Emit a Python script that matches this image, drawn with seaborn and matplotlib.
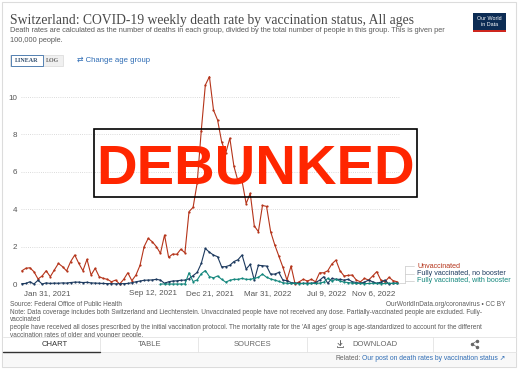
import matplotlib
matplotlib.use("Agg")
import matplotlib.pyplot as plt
import seaborn as sns
import pandas as pd
from matplotlib.patches import Rectangle
from matplotlib.lines import Line2D

# weekly death rates per 100,000
unvax = [0.70, 0.84, 0.87, 0.66, 0.27, 0.43, 0.71, 0.39, 0.75, 1.10,
         0.93, 0.70, 1.20, 1.55, 1.10, 0.71, 1.32, 0.48, 0.84, 0.39,
         0.30, 0.25, 0.12, 0.21, 0.00, 0.25, 0.60, 0.18, 0.48, 1.00,
         2.00, 2.44, 2.26, 2.00, 1.64, 2.62, 1.43, 1.60, 1.59, 1.86,
         1.67, 3.87, 4.10, 5.40, 8.20, 10.64, 11.09, 9.30, 8.77, 7.60,
         7.00, 7.80, 6.30, 5.50, 5.50, 4.30, 4.85, 3.10, 2.80, 4.20,
         4.15, 2.80, 2.10, 1.50, 0.90, 0.21, 0.96, 0.00, 0.12, 0.25,
         0.16, 0.25, 0.12, 0.60, 0.60, 0.71, 1.07, 1.28, 0.71, 0.43,
         0.46, 0.48, 0.21, 0.12, 0.30, 0.21, 0.43, 0.66, 0.21, 0.12,
         0.36, 0.18, 0.12]
no_booster = [0.02, 0.03, 0.12, 0.00, 0.20, 0.00, 0.06, 0.03, 0.05, 0.04,
              0.06, 0.05, 0.08, 0.10, 0.10, 0.08, 0.09, 0.06, 0.05, 0.04,
              0.03, 0.02, 0.02, 0.01, 0.02, 0.02, 0.03, 0.07, 0.12, 0.16,
              0.20, 0.21, 0.22, 0.25, 0.21, 0.04, 0.12, 0.16, 0.17, 0.20,
              0.21, 0.28, 0.45, 0.62, 1.10, 1.90, 1.70, 1.55, 1.46, 0.92,
              0.93, 1.00, 1.20, 1.30, 1.55, 0.80, 1.05, 0.20, 1.00, 0.98,
              0.96, 0.53, 0.53, 0.62, 0.21, 0.18, 0.08, 0.05, 0.04, 0.03,
              0.05, 0.04, 0.08, 0.20, 0.39, 0.04, 0.30, 0.25, 0.25, 0.21,
              0.25, 0.12, 0.08, 0.04, 0.10, 0.21, 0.12, 0.04, 0.10, 0.21,
              0.00, 0.05, 0.05]
booster_start = 34
with_booster = [0.00, 0.00, 0.00, 0.00, 0.00, 0.00, 0.00, 0.60, 0.13, 0.22,
                0.55, 0.72, 0.40, 0.33, 0.43, 0.25, 0.10, 0.20, 0.25, 0.25,
                0.30, 0.25, 0.25, 0.30, 0.36, 0.53, 0.36, 0.27, 0.21, 0.14,
                0.07, 0.04, 0.03, 0.03, 0.02, 0.03, 0.02, 0.03, 0.03, 0.05,
                0.10, 0.30, 0.16, 0.25, 0.16, 0.10, 0.08, 0.05, 0.03, 0.03,
                0.02, 0.03, 0.04, 0.03, 0.02, 0.03, 0.04, 0.03, 0.03]

statuses = ["Unvaccinated", "Fully vaccinated, no booster", "Fully vaccinated, with booster"]
colors = ["#b5341a", "#1d3a5f", "#14877d"]
tick_pos = [6.2, 32.2, 46.2, 60.4, 74.8, 86.3]
tick_labels = ["Jan 31, 2021", "Sep 12, 2021", "Dec 21, 2021", "Mar 31, 2022", "Jul 9, 2022", "Nov 6, 2022"]

df = pd.concat([
    pd.DataFrame({"week": range(len(unvax)), "rate": unvax, "status": statuses[0]}),
    pd.DataFrame({"week": range(len(no_booster)), "rate": no_booster, "status": statuses[1]}),
    pd.DataFrame({"week": range(booster_start, booster_start + len(with_booster)),
                  "rate": with_booster, "status": statuses[2]}),
])

W, H = 520, 370
def fx(x):
    return x / W
def fy(y):
    return 1 - y / H

sns.set_theme(style="white")
plt.rcParams["font.family"] = ["Liberation Sans", "DejaVu Sans"]

fig = plt.figure(figsize=(5.2, 3.7), dpi=100)
fig.patch.set_facecolor("white")

# card border
fig.add_artist(Rectangle((fx(2), fy(367)), (516 - 2) / W, (367 - 2) / H, transform=fig.transFigure,
                         fill=False, edgecolor="#dcdcdc", linewidth=0.8))

# plot
ax = fig.add_axes([fx(21), fy(285), (400 - 21) / W, (285 - 74) / H])
sns.lineplot(data=df, x="week", y="rate", hue="status", hue_order=statuses, palette=colors,
             marker="o", markersize=1.6, markeredgewidth=0, linewidth=0.8,
             legend=False, errorbar=None, ax=ax)
ax.set_xlim(-0.17, 92.7)
ax.set_ylim(-0.053, 11.23)
ax.set_yticks([0, 2, 4, 6, 8, 10])
ax.set_xticks(tick_pos, tick_labels)
ax.set_xlabel("")
ax.set_ylabel("")
ax.yaxis.grid(True, linestyle=(0, (1, 1.6)), color="#cfcfcf", linewidth=0.6)
ax.xaxis.grid(False)
for s in ax.spines.values():
    s.set_visible(False)
ax.tick_params(axis="both", length=0, labelsize=5.8, colors="#555555")
ax.tick_params(axis="x", pad=3.5)
ax.tick_params(axis="y", pad=2.5)
ax.set_facecolor("none")

# legend labels at the line ends
leg_y = [266, 273.5, 281]
for lab, col, yy in zip(statuses, colors, leg_y):
    fig.text(fx(417), fy(yy), lab, color=col, fontsize=5.1, va="center", ha="left")
for yy in leg_y:
    fig.add_artist(Line2D([fx(405), fx(414)], [fy(yy), fy(yy)], transform=fig.transFigure,
                          color="#c8c8c8", linewidth=0.5))
fig.add_artist(Line2D([fx(405), fx(405)], [fy(266), fy(283)], transform=fig.transFigure,
                      color="#c8c8c8", linewidth=0.5))
fig.add_artist(Line2D([fx(399), fx(405)], [fy(283), fy(283)], transform=fig.transFigure,
                      color="#c8c8c8", linewidth=0.5))

# header
fig.text(fx(10), fy(24), "Switzerland: COVID-19 weekly death rate by vaccination status, All ages",
         family=["Liberation Serif", "DejaVu Serif"], fontsize=9.8, color="#4a4a4a", va="baseline")
fig.text(fx(10), fy(30.5), "Death rates are calculated as the number of deaths in each group, divided by the total "
         "number of people in this group. This is given per", fontsize=5.3, color="#5b5b5b", va="center")
fig.text(fx(10), fy(41), "100,000 people.", fontsize=5.3, color="#5b5b5b", va="center")

# LINEAR / LOG toggle
fig.add_artist(Rectangle((fx(10), fy(66)), 53 / W, 11 / H, transform=fig.transFigure,
                         facecolor="#f0f0f0", edgecolor="#d8d8d8", linewidth=0.5))
fig.add_artist(Rectangle((fx(10.5), fy(65.5)), 32 / W, 10 / H, transform=fig.transFigure,
                         facecolor="white", edgecolor="#3a6ea8", linewidth=0.6))
fig.text(fx(26.5), fy(60.5), "LINEAR", fontsize=4.3, color="#2d4a6b", ha="center", va="center",
         family=["Liberation Serif", "DejaVu Serif"], fontweight="bold")
fig.text(fx(52.5), fy(60.5), "LOG", fontsize=4.3, color="#666666", ha="center", va="center",
         family=["Liberation Serif", "DejaVu Serif"], fontweight="bold")
fig.text(fx(77), fy(60.5), "\u21c4 Change age group", fontsize=5.6, color="#2f6db5", va="center")

# OWID logo
fig.add_artist(Rectangle((fx(473), fy(32)), 33 / W, 19 / H, transform=fig.transFigure,
                         facecolor="#0c2c54", edgecolor="none"))
fig.add_artist(Rectangle((fx(473), fy(32)), 33 / W, 2 / H, transform=fig.transFigure,
                         facecolor="#ce261e", edgecolor="none"))
fig.text(fx(489.5), fy(21.5), "Our World\nin Data", fontsize=3.9, color="white", ha="center",
         va="center", linespacing=1.0)

# DEBUNKED stamp
fig.add_artist(Rectangle((fx(94), fy(197)), (417 - 94) / W, (197 - 129) / H, transform=fig.transFigure,
                         fill=False, edgecolor="black", linewidth=1.2, zorder=10))
fig.text(fx(255.5), fy(183.5), "DEBUNKED", ha="center", va="baseline", fontsize=40.5,
         fontweight="bold", color="#ff2600", zorder=11)

# footer
fs = 4.7
fig.text(fx(10), fy(305), "Source: Federal Office of Public Health", fontsize=fs, color="#5b5b5b", va="center")
fig.text(fx(506), fy(305), "OurWorldInData.org/coronavirus \u2022 CC BY", fontsize=fs, color="#5b5b5b",
         va="center", ha="right")
notes = [
    "Note: Data coverage includes both Switzerland and Liechtenstein. Unvaccinated people have not received any "
    "dose. Partially-vaccinated people are excluded. Fully-",
    "vaccinated",
    "people have received all doses prescribed by the initial vaccination protocol. The mortality rate for the "
    "'All ages' group is age-standardized to account for the different",
    "vaccination rates of older and younger people.",
]
for i, line in enumerate(notes):
    fig.text(fx(10), fy(312 + 7.7 * i), line, fontsize=fs, color="#5b5b5b", va="center")

# tab bar
fig.add_artist(Rectangle((fx(2.5), fy(352)), 513 / W, 15.5 / H, transform=fig.transFigure,
                         facecolor="white", edgecolor="none", zorder=20))
fig.add_artist(Line2D([fx(2.5), fx(515.5)], [fy(336.5), fy(336.5)], transform=fig.transFigure,
                      color="#e3e3e3", linewidth=0.6, zorder=21))
for xs in [100, 198, 307, 433]:
    fig.add_artist(Line2D([fx(xs), fx(xs)], [fy(336.5), fy(352)], transform=fig.transFigure,
                          color="#e3e3e3", linewidth=0.6, zorder=21))
fig.add_artist(Line2D([fx(2.5), fx(100)], [fy(351.5), fy(351.5)], transform=fig.transFigure,
                      color="#333333", linewidth=1.0, zorder=22))
tabs = [("CHART", 55, "#333333"), ("TABLE", 150, "#666666"), ("SOURCES", 253, "#666666"),
        ("DOWNLOAD", 375, "#666666")]
for lab, xc, col in tabs:
    fig.text(fx(xc), fy(344), lab, fontsize=5.5, color=col, ha="center", va="center", zorder=23)
# download icon (arrow over a tray)
dx = 340
fig.add_artist(Line2D([fx(dx), fx(dx)], [fy(340), fy(345)], transform=fig.transFigure,
                      color="#666666", linewidth=0.7, zorder=23))
fig.add_artist(Line2D([fx(dx - 2), fx(dx), fx(dx + 2)], [fy(343.3), fy(345.3), fy(343.3)],
                      transform=fig.transFigure, color="#666666", linewidth=0.6, zorder=23))
fig.add_artist(Line2D([fx(dx - 3), fx(dx - 3), fx(dx + 3), fx(dx + 3)],
                      [fy(345.5), fy(347), fy(347), fy(345.5)],
                      transform=fig.transFigure, color="#666666", linewidth=0.6, zorder=23))
# share icon
sx = [fx(472), fx(476.5), fx(476.5)]
sy = [fy(344), fy(341.3), fy(346.7)]
fig.add_artist(Line2D([sx[1], sx[0], sx[2]], [sy[1], sy[0], sy[2]], transform=fig.transFigure,
                      color="#666666", linewidth=0.5, marker="o", markersize=1.5, zorder=23))

# bottom strip
fig.add_artist(Rectangle((fx(2.5), fy(366.5)), 513 / W, 14.5 / H, transform=fig.transFigure,
                         facecolor="#f8f8f8", edgecolor="none", zorder=20))
fig.add_artist(Line2D([fx(2.5), fx(515.5)], [fy(352), fy(352)], transform=fig.transFigure,
                      color="#e3e3e3", linewidth=0.6, zorder=21))
fig.text(fx(505), fy(359), "Our post on death rates by vaccination status \u2197", fontsize=4.9,
         color="#2f6db5", ha="right", va="center", zorder=23)
fig.text(fx(361), fy(359), "Related:", fontsize=4.9, color="#666666", ha="right", va="center", zorder=23)

fig.savefig("out.png", dpi=100)
